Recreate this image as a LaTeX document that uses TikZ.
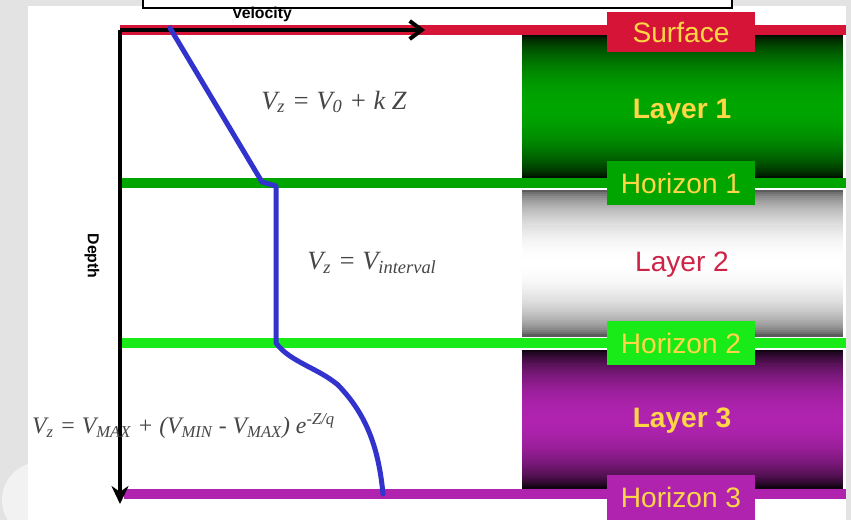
\documentclass[tikz,border=0pt]{standalone}
\usepackage{fontspec}
\setmainfont{Liberation Sans}
\newfontfamily\eqfont{Liberation Serif}
\usetikzlibrary{arrows.meta}

\definecolor{surfred}{RGB}{214,20,56}
\definecolor{hzone}{RGB}{0,165,0}
\definecolor{hztwo}{RGB}{25,235,25}
\definecolor{hzthree}{RGB}{175,35,175}
\definecolor{velblue}{RGB}{50,50,205}
\definecolor{labyellow}{RGB}{255,215,70}
\definecolor{eqgray}{RGB}{70,70,70}
\definecolor{lay2red}{RGB}{205,35,70}
\colorlet{lay2dark}{black!75}

\newcommand{\sbs}[1]{\textsubscript{#1}}

\begin{document}
\begin{tikzpicture}[x=0.02cm, y=-0.02cm,
horizon/.style={line width=0.2cm},
tag/.style={minimum width=2.96cm, minimum height=0.9cm, inner sep=0pt,
  text=labyellow, font=\fontsize{16}{18}\selectfont},
layertext/.style={font=\bfseries\fontsize{16}{18}\selectfont},
eq/.style={text=eqgray, font=\eqfont\itshape\fontsize{15}{18}\selectfont},
axis/.style={black, line width=0.08cm}
]
\useasboundingbox (0,0) rectangle (851,520);

% slide background
\fill[gray!22] (0,0) rectangle (851,520);
\fill[gray!10] (40,500) circle (38);
\fill[white] (28,6) rectangle (846,520);
\draw[line width=1.2pt, fill=white] (143,-10) rectangle (732,8);

% layer column, banded gradients
\foreach \i in {0,...,71} {
  \pgfmathsetmacro\p{min(99.9,100*sin(180*(\i+0.5)/72)^0.6)}
  \fill[hzone!\p!black] (522,{35+\i*143/72}) rectangle (843,{35+(\i+1)*143/72+0.6});
  \pgfmathsetmacro\q{min(99.9,100*sin(180*(\i+0.5)/72)^0.5)}
  \fill[white!\q!lay2dark] (522,{190+\i*146/72}) rectangle (843,{190+(\i+1)*146/72+0.6});
  \fill[hzthree!\p!black] (522,{350+\i*138/72}) rectangle (843,{350+(\i+1)*138/72+0.6});
}

% horizons
\coordinate (O) at (120,30);
\draw[horizon, surfred] (O) -- (846,30);
\draw[horizon, hzone] (118,183) -- (846,183);
\draw[horizon, hztwo] (118,343) -- (846,343);
\draw[horizon, hzthree] (124,494) -- (846,494);

% tags
\node[tag, fill=surfred, minimum height=0.8cm] (surface) at (681,32) {Surface};
\node[tag, fill=hzone] (hor1) at (681,183) {Horizon 1};
\node[tag, fill=hztwo] (hor2) at (681,343) {Horizon 2};
\node[tag, fill=hzthree] (hor3) at (681,497) {Horizon 3};

\node[layertext, text=labyellow] (lay1) at (682,112) {Layer 1};
\node[font=\fontsize{16}{18}\selectfont, text=lay2red] (lay2) at (682,265) {Layer 2};
\node[layertext, text=labyellow] (lay3) at (682,421) {Layer 3};

% axes
\coordinate (velend) at (425,30);
\coordinate (depend) at (120,504);
\draw[axis, -{Straight Barb[length=2.4mm, width=3.6mm]}] (O) -- (velend);
\draw[axis, -{Stealth[length=3.6mm, width=3.4mm]}] (O) -- (depend);
\node[font=\bfseries\small] (vellab) at (262,14) {Velocity};
\node[font=\bfseries\small, rotate=-90] (deplab) at (92,256) {Depth};

% velocity function
\coordinate (P0) at (170,28);
\coordinate (P1) at (262,182);
\coordinate (P2) at (276,186);
\coordinate (P3) at (276,343);
\coordinate (P4) at (338,385);
\coordinate (P5) at (383,494);
\draw[velblue, line width=0.1cm, line cap=round, line join=round]
  (P0) -- (P1) -- (P2) -- (P3)
  .. controls (290,362) and (318,368) .. (P4)
  .. controls (362,410) and (378,440) .. (P5);

% equations
\node[eq] (eq1) at (334,102) {V\sbs{z} = V\sbs{0} + k Z};
\node[eq] (eq2) at (372,263) {V\sbs{z} = V\sbs{interval}};
\node[eq, anchor=west, font=\eqfont\itshape\fontsize{13.5}{16}\selectfont] (eq3) at (26,426)
  {V\sbs{z} = V\sbs{MAX} + (V\sbs{MIN} - V\sbs{MAX}) e\textsuperscript{-Z/q}};
\end{tikzpicture}
\end{document}
